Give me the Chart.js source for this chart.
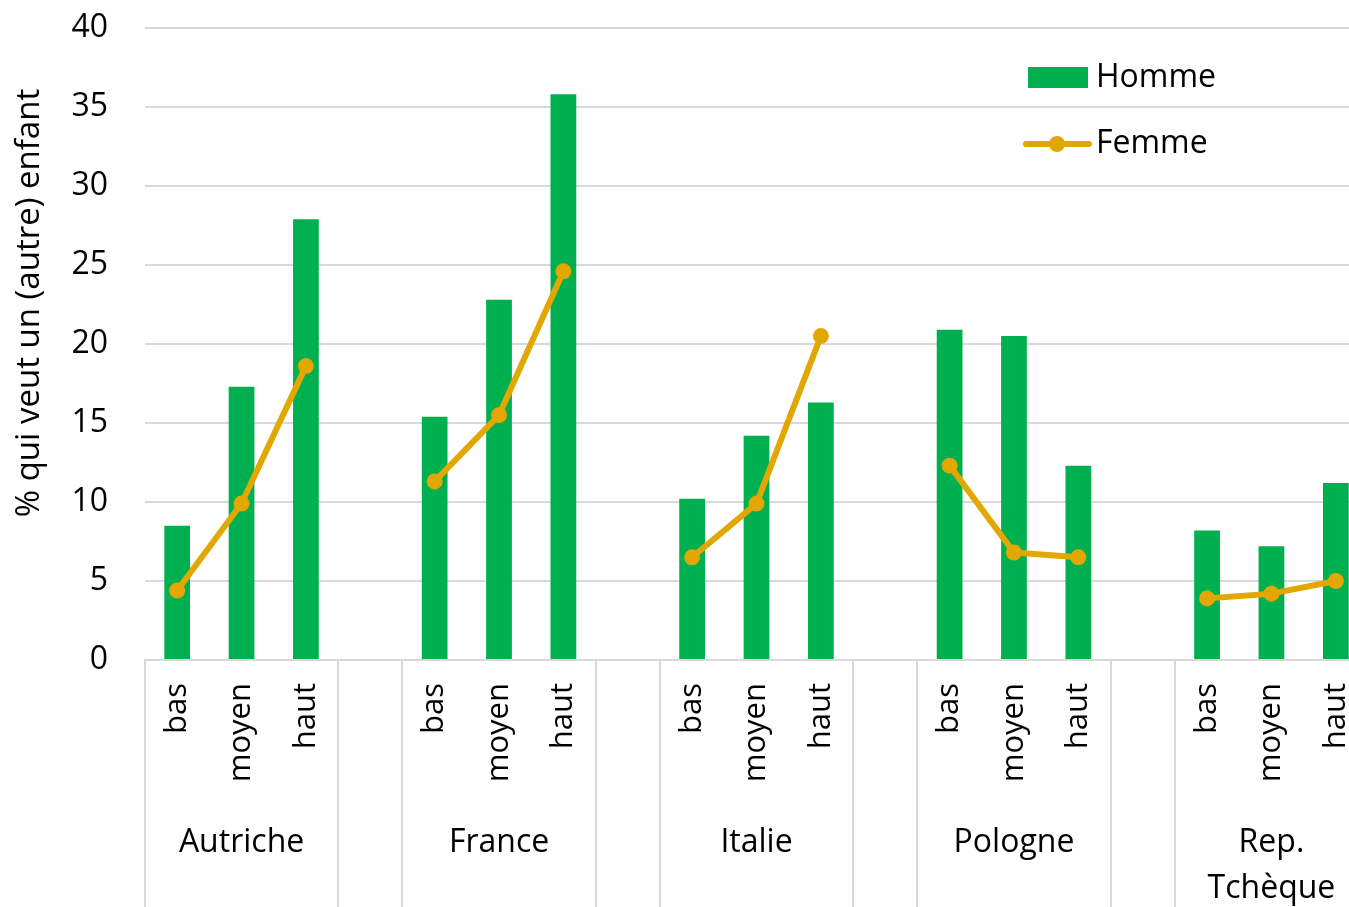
<!DOCTYPE html>
<html lang="fr">
<head>
<meta charset="utf-8">
<title>% qui veut un (autre) enfant</title>
<script src="https://cdn.jsdelivr.net/npm/chart.js@4.4.1/dist/chart.umd.min.js"></script>
<style>
  html, body { margin: 0; padding: 0; background: #fff; overflow: hidden; }
  #wrap { width: 1370px; height: 907px; }
</style>
</head>
<body>
<div id="wrap"><canvas id="chart" width="1370" height="907"></canvas></div>
<script>
// Countries (group labels) and education levels (tick labels)
const countries = ['Autriche', 'France', 'Italie', 'Pologne', ['Rep.', 'Tchèque']];
const levels = ['bas', 'moyen', 'haut'];

// % who want a (further) child, per country: bas, moyen, haut
const hommeValues = [
    8.5, 17.3, 27.9,   // Autriche
    15.4, 22.8, 35.8,  // France
    10.2, 14.2, 16.3,  // Italie
    20.9, 20.5, 12.3,  // Pologne
    8.2, 7.2, 11.2     // Rep. Tchèque
];
const femmeValues = [
    4.4, 9.9, 18.6,
    11.3, 15.5, 24.6,
    6.5, 9.9, 20.5,
    12.3, 6.8, 6.5,
    3.9, 4.2, 5.0
];

const Y_MIN = 0;
const Y_MAX = 40;
const Y_STEP = 5;

const GREEN = '#00B050';
const GOLD = '#E2A700';
const GRID = '#d9d9d9';
const TEXT = '#000000';
const FONT = '"Open Sans", "Noto Sans", sans-serif';

/**
 * Build the category axis: one empty slot between countries
 */
function buildSeries() {
    const labels = [];
    const homme = [];
    const femme = [];
    countries.forEach((c, ci) => {
        if (ci > 0) {
            labels.push('');
            homme.push(null);
            femme.push(null);
        }
        levels.forEach((lvl, li) => {
            labels.push(lvl);
            homme.push(hommeValues[ci * 3 + li]);
            femme.push(femmeValues[ci * 3 + li]);
        });
    });
    return { labels, homme, femme };
}

const series = buildSeries();

// Draws group separators, country names, y title and the legend
const groupAxisPlugin = {
    id: 'groupAxis',
    afterDraw(chart) {
        const ctx = chart.ctx;
        const xs = chart.scales.x;
        const area = chart.chartArea;
        ctx.save();

        // separators below the axis
        ctx.strokeStyle = GRID;
        ctx.lineWidth = 2;
        countries.forEach((c, ci) => {
            const start = ci * 4;
            [start - 0.5, start + 2.5].forEach(v => {
                const px = Math.round(xs.getPixelForValue(v));
                ctx.beginPath();
                ctx.moveTo(px, area.bottom);
                ctx.lineTo(px, chart.height);
                ctx.stroke();
            });
        });

        // country labels
        ctx.fillStyle = TEXT;
        ctx.font = '32px ' + FONT;
        ctx.textAlign = 'center';
        ctx.textBaseline = 'alphabetic';
        countries.forEach((c, ci) => {
            const px = xs.getPixelForValue(ci * 4 + 1);
            const lines = Array.isArray(c) ? c : [c];
            lines.forEach((line, li) => ctx.fillText(line, px, 852 + li * 46));
        });

        // y axis title
        ctx.save();
        ctx.translate(30, 303);
        ctx.rotate(-Math.PI / 2);
        ctx.font = '33px ' + FONT;
        ctx.textBaseline = 'middle';
        ctx.fillText('% qui veut un (autre) enfant', 0, 0);
        ctx.restore();

        // legend
        ctx.textAlign = 'left';
        ctx.textBaseline = 'middle';
        ctx.font = '32px ' + FONT;
        ctx.fillStyle = GREEN;
        ctx.fillRect(1028, 67, 60, 21);
        ctx.fillStyle = TEXT;
        ctx.fillText(chart.data.datasets[1].label, 1096, 78);

        ctx.strokeStyle = GOLD;
        ctx.lineWidth = 6;
        ctx.lineCap = 'round';
        ctx.beginPath();
        ctx.moveTo(1026, 144);
        ctx.lineTo(1089, 144);
        ctx.stroke();
        ctx.fillStyle = GOLD;
        ctx.beginPath();
        ctx.arc(1057, 144, 8, 0, Math.PI * 2);
        ctx.fill();
        ctx.fillStyle = TEXT;
        ctx.fillText(chart.data.datasets[0].label, 1096, 144);

        ctx.restore();
    }
};

new Chart(document.getElementById('chart'), {
    type: 'bar',
    data: {
        labels: series.labels,
        datasets: [
            {
                type: 'line',
                label: 'Femme',
                data: series.femme,
                borderColor: GOLD,
                backgroundColor: GOLD,
                borderWidth: 6,
                borderCapStyle: 'round',
                borderJoinStyle: 'round',
                pointRadius: 7,
                pointBorderWidth: 2,
                pointBackgroundColor: GOLD,
                spanGaps: false,
                tension: 0,
                order: 0,
            },
            {
                type: 'bar',
                label: 'Homme',
                data: series.homme,
                backgroundColor: GREEN,
                categoryPercentage: 1,
                barPercentage: 0.4,
                order: 1,
            },
        ],
    },
    options: {
        responsive: false,
        animation: false,
        layout: { autoPadding: false, padding: { top: 28, right: 2, bottom: 0, left: 0 } },
        plugins: {
            legend: { display: false },
            tooltip: { enabled: false },
        },
        scales: {
            x: {
                grid: { display: false, drawTicks: false },
                border: { display: true, color: GRID, width: 2 },
                ticks: {
                    autoSkip: false,
                    minRotation: 90,
                    maxRotation: 90,
                    padding: 23,
                    color: TEXT,
                    font: { family: FONT, size: 31 },
                },
                afterFit(scale) {
                    scale.height = 247;
                    scale.paddingLeft = 0;
                    scale.paddingRight = 0;
                },
            },
            y: {
                min: Y_MIN,
                max: Y_MAX,
                ticks: {
                    stepSize: Y_STEP,
                    padding: 37,
                    color: TEXT,
                    font: { family: FONT, size: 32 },
                },
                grid: { color: GRID, lineWidth: 2, drawTicks: false },
                border: { display: false },
                afterFit(scale) {
                    scale.width = 145;
                    scale.paddingTop = 0;
                    scale.paddingBottom = 0;
                },
            },
        },
    },
    plugins: [groupAxisPlugin],
});
</script>
</body>
</html>
